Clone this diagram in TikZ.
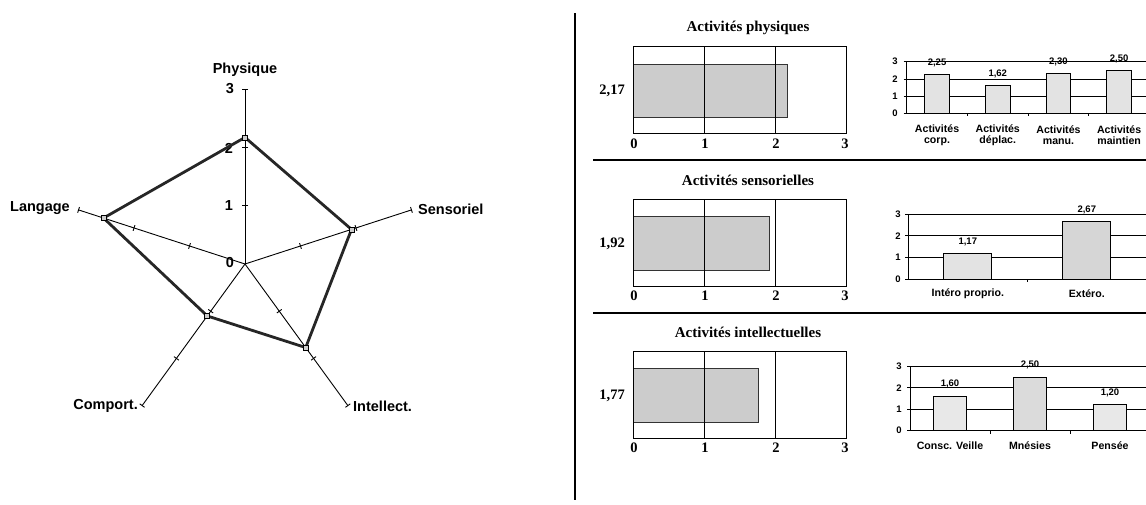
\documentclass[tikz,border=0pt]{standalone}
\usepackage{fontspec}
\setmainfont{Liberation Serif}
\newfontfamily\arialf{Liberation Sans}
\newcommand\barpanel[5]{%
  % #1 top y, #2 value, #3 value text, #4 title, #5 name prefix
  \pgfmathsetmacro\bpr{633+71*#2}%
  \fill[hbarfill] (633,#1+17.5) rectangle (\bpr,#1+71);
  \draw[hbarline] (633,#1+17.5) -- (\bpr,#1+17.5) -- (\bpr,#1+71) -- (633,#1+71);
  \draw[boxline] (633,#1) rectangle (846,#1+87);
  \draw[boxline] (704,#1) -- (704,#1+87);
  \draw[boxline] (775,#1) -- (775,#1+87);
  \node[ttl] (#5t) at (748,#1-19) {#4};
  \node[bignum, anchor=east] (#5v) at (625,#1+44.5) {#3};
  \node[bignum] (#5a0) at (634,#1+97) {0};
  \node[bignum] (#5a1) at (705,#1+97) {1};
  \node[bignum] (#5a2) at (776,#1+97) {2};
  \node[bignum] (#5a3) at (845,#1+97) {3};
}
\begin{document}
\begin{tikzpicture}[x=1pt,y=-1pt,
  axisline/.style={black, line width=0.9pt},
  dataline/.style={black!85, line width=2.8pt, line join=round},
  vtx/.style={draw=black, fill=gray!40, line width=0.7pt, rectangle, minimum size=5pt, inner sep=0pt},
  rlab/.style={font=\arialf\fontsize{14.5}{16}\selectfont\bfseries, inner sep=0pt},
  ttl/.style={font=\fontsize{15}{18}\selectfont\bfseries, inner sep=0pt},
  bignum/.style={font=\fontsize{14.5}{17}\selectfont\bfseries, inner sep=0pt},
  hbarfill/.style={fill=gray!40},
  hbarline/.style={black!80, line width=0.9pt},
  boxline/.style={black, line width=0.7pt},
  sepline/.style={black, line width=1.3pt},
  grid/.style={black, line width=0.8pt},
  vbar/.style={draw=black, line width=0.9pt, fill=gray!22},
  snum/.style={font=\arialf\fontsize{9.5}{10}\selectfont\bfseries, inner sep=0pt},
  scat/.style={font=\arialf\fontsize{10.6}{11.7}\selectfont\bfseries, inner sep=0pt, align=center},
]
\useasboundingbox (0,0) rectangle (1146,504);

% ---------------- radar chart ----------------
\node[bignum, font=\arialf\fontsize{14.5}{16}\selectfont\bfseries] (n2) at (229,148) {2};
\begin{scope}[shift={(245,264)}, y=1pt]
  \coordinate (O) at (0,0);
  \foreach \a/\n in {90/P,18/S,-54/I,-126/C,162/L}{
    \draw[axisline] (O) -- (\a:175) coordinate (e\n);
    \foreach \k in {1,2,3}{
      \draw[axisline, rotate=\a] (\k*58.333,-3) -- (\k*58.333,3);
    }
  }
  \coordinate (dP) at (90:126.6);
  \coordinate (dS) at (18:112);
  \coordinate (dI) at (-54:103.25);
  \coordinate (dC) at (-126:64.2);
  \coordinate (dL) at (162:148.75);
  \draw[dataline] (dP) -- (dS) -- (dI) -- (dC) -- (dL) -- cycle;
  \foreach \n in {P,S,I,C,L}{ \node[vtx] (m\n) at (d\n) {}; }
\end{scope}
\node[rlab] (lP) at (245,70) {Physique};
\node[rlab, anchor=west] (lS) at (418,209) {Sensoriel};
\node[rlab, anchor=east] (lL) at (70,208) {Langage};
\node[rlab, anchor=east] (lC) at (138,406) {Comport.};
\node[rlab, anchor=west] (lI) at (353,406) {Intellect.};
\node[rlab] (n3) at (230,89) {3};
\node[rlab] (n1) at (229,206) {1};
\node[rlab] (n0) at (230,263) {0};

% ---------------- dividers ----------------
\coordinate (vt) at (575,13);
\coordinate (vb) at (575,500);
\draw[black, line width=2.2pt] (vt) -- (vb);
\coordinate (s1a) at (593,160); \coordinate (s1b) at (1146,160);
\coordinate (s2a) at (593,313); \coordinate (s2b) at (1146,313);
\draw[sepline] (s1a) -- (s1b);
\draw[sepline] (s2a) -- (s2b);

% ---------------- horizontal bar panels ----------------
\barpanel{46.7}{2.17}{2,17}{Activités physiques}{p}
\barpanel{199}{1.92}{1,92}{Activités sensorielles}{s}
\barpanel{351}{1.77}{1,77}{Activités intellectuelles}{i}

% ---------------- small column chart 1 ----------------
\begin{scope}
  \def\ax{906.7}\def\yo{113.3}\def\u{17.2}\def\cw{60.7}\def\bw{24.5}
  \foreach \k in {1,2,3}{ \draw[grid] (\ax,\yo-\k*\u) -- (1146,\yo-\k*\u); }
  \foreach \k in {0,1,2,3}{ \draw[grid] (\ax-3,\yo-\k*\u) -- (\ax,\yo-\k*\u);
     \node[snum] at (895,\yo-\k*\u) {\k}; }
  \draw[grid] (\ax,\yo) -- (\ax,\yo-3*\u);
  \draw[grid] (\ax,\yo) -- (1146,\yo);
  \foreach \j in {1,2,3}{ \draw[grid] (\ax+\j*\cw,\yo) -- (\ax+\j*\cw,\yo+3); }
  \foreach \i/\v/\t/\c in {1/2.25/{2,25}/{Activités\\corp.},2/1.62/{1,62}/{Activités\\déplac.},3/2.30/{2,30}/{Activités\\manu.},4/2.50/{2,50}/{Activités\\maintien}}{
    \draw[vbar] (\ax+\i*\cw-0.5*\cw-0.5*\bw,\yo) rectangle (\ax+\i*\cw-0.5*\cw+0.5*\bw,\yo-\v*\u);
    \node[snum] at (\ax+\i*\cw-0.5*\cw,\yo-\v*\u-11.5) {\t};
    \node[scat] at (\ax+\i*\cw-0.5*\cw,135.2) {\c};
  }
\end{scope}

% ---------------- small column chart 2 ----------------
\begin{scope}
  \def\ax{908.3}\def\yo{279.3}\def\u{21.8}\def\cw{119}\def\bw{48}
  \foreach \k in {1,2,3}{ \draw[grid] (\ax,\yo-\k*\u) -- (1146,\yo-\k*\u); }
  \foreach \k in {0,1,2,3}{ \draw[grid] (\ax-3,\yo-\k*\u) -- (\ax,\yo-\k*\u);
     \node[snum] at (898,\yo-\k*\u) {\k}; }
  \draw[grid] (\ax,\yo) -- (\ax,\yo-3*\u);
  \draw[grid] (\ax,\yo) -- (1146,\yo);
  \draw[grid] (\ax+\cw,\yo) -- (\ax+\cw,\yo+3);
  \foreach \i/\v/\t/\c/\f in {1/1.17/{1,17}/{Intéro proprio.}/22,2/2.67/{2,67}/{Extéro.}/32}{
    \draw[vbar, fill=gray!\f] (\ax+\i*\cw-0.5*\cw-0.5*\bw,\yo) rectangle (\ax+\i*\cw-0.5*\cw+0.5*\bw,\yo-\v*\u);
    \node[snum] at (\ax+\i*\cw-0.5*\cw,\yo-\v*\u-11.5) {\t};
    \node[scat] at (\ax+\i*\cw-0.5*\cw,293.3) {\c};
  }
\end{scope}

% ---------------- small column chart 3 ----------------
\begin{scope}
  \def\ax{910}\def\yo{430.7}\def\u{21.5}\def\cw{80}\def\bw{33}
  \foreach \k in {1,2,3}{ \draw[grid] (\ax,\yo-\k*\u) -- (1146,\yo-\k*\u); }
  \foreach \k in {0,1,2,3}{ \draw[grid] (\ax-3,\yo-\k*\u) -- (\ax,\yo-\k*\u);
     \node[snum] at (899,\yo-\k*\u) {\k}; }
  \draw[grid] (\ax,\yo) -- (\ax,\yo-3*\u);
  \draw[grid] (\ax,\yo) -- (1146,\yo);
  \foreach \j in {1,2}{ \draw[grid] (\ax+\j*\cw,\yo) -- (\ax+\j*\cw,\yo+3); }
  \foreach \i/\v/\t/\c/\f in {1/1.60/{1,60}/{Consc. Veille}/18,2/2.50/{2,50}/{Mnésies}/28,3/1.20/{1,20}/{Pensée}/18}{
    \draw[vbar, fill=gray!\f] (\ax+\i*\cw-0.5*\cw-0.5*\bw,\yo) rectangle (\ax+\i*\cw-0.5*\cw+0.5*\bw,\yo-\v*\u);
    \node[snum] at (\ax+\i*\cw-0.5*\cw,\yo-\v*\u-12) {\t};
    \node[scat] at (\ax+\i*\cw-0.5*\cw,446) {\c};
  }
\end{scope}
\end{tikzpicture}
\end{document}
